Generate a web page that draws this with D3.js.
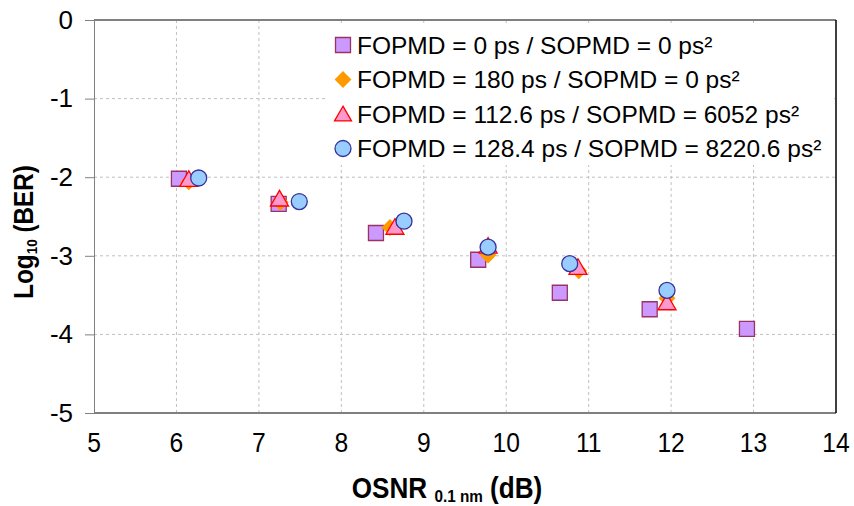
<!DOCTYPE html>
<html>
<head>
<meta charset="utf-8">
<script src="https://cdn.jsdelivr.net/npm/d3@7"></script>
<style>
  body { margin: 0; background: #fff; }
  text { font-family: "Liberation Sans", Arial, sans-serif; fill: #000; }
</style>
</head>
<body>
<script>
// data
var xTicks = [5, 6, 7, 8, 9, 10, 11, 12, 13, 14];
var yTicks = [0, -1, -2, -3, -4, -5];

var osnrSquare = [6.03, 7.24, 8.42, 9.66, 10.65, 11.74, 12.92];
var berSquare = [-2.02, -2.34, -2.71, -3.05, -3.47, -3.68, -3.93];

var osnrDiamond = [6.15, 7.26, 8.59, 9.78, 10.88, 11.95];
var berDiamond = [-2.06, -2.32, -2.64, -2.99, -3.19, -3.54];

var osnrTriangle = [6.15, 7.25, 8.65, 9.78, 10.87, 11.95];
var berTriangle = [-2.05, -2.30, -2.66, -2.90, -3.17, -3.62];

var osnrCircle = [6.27, 7.49, 8.76, 9.78, 10.77, 11.95];
var berCircle = [-2.01, -2.31, -2.56, -2.89, -3.10, -3.44];

var labels = [
  "FOPMD = 0 ps / SOPMD = 0 ps\u00b2",
  "FOPMD = 180 ps / SOPMD = 0 ps\u00b2",
  "FOPMD = 112.6 ps / SOPMD = 6052 ps\u00b2",
  "FOPMD = 128.4 ps / SOPMD = 8220.6 ps\u00b2"
];

var w = 854, h = 506;
var plotLeft = 94, plotTop = 20, plotRight = 836, plotBottom = 413;

var svg = d3.select("body").append("svg")
  .attr("width", w)
  .attr("height", h);

var x = d3.scaleLinear().domain([5, 14]).range([plotLeft, plotRight]);
var y = d3.scaleLinear().domain([-5, 0]).range([plotBottom, plotTop]);

// marker shapes
var shapes = {
  square: function (s) { return "M" + (-s) + "," + (-s) + "h" + 2 * s + "v" + 2 * s + "h" + (-2 * s) + "Z"; },
  diamond: function (s) { return "M0," + (-s) + "L" + s + ",0L0," + s + "L" + (-s) + ",0Z"; },
  triangle: function (s) { var hh = s * Math.sqrt(3); return "M0," + (-hh * 2 / 3) + "L" + s + "," + (hh / 3) + "L" + (-s) + "," + (hh / 3) + "Z"; },
  circle: function (s) { return d3.symbol(d3.symbolCircle, Math.PI * s * s)(); }
};

var series = [
  { xs: osnrSquare, ys: berSquare, shape: "square", size: 7.5, fill: "#cc99ff", stroke: "#993366" },
  { xs: osnrDiamond, ys: berDiamond, shape: "diamond", size: 7.5, fill: "#ff9900", stroke: "#ff9900" },
  { xs: osnrTriangle, ys: berTriangle, shape: "triangle", size: 9, fill: "#ff99cc", stroke: "#ff0000" },
  { xs: osnrCircle, ys: berCircle, shape: "circle", size: 8, fill: "#99ccff", stroke: "#333399" }
];

// grid
svg.append("g").selectAll("line")
  .data(xTicks.slice(1, -1))
  .enter().append("line")
  .attr("x1", d => x(d)).attr("x2", d => x(d))
  .attr("y1", plotTop).attr("y2", plotBottom)
  .attr("stroke", "#c0c0c0")
  .attr("stroke-dasharray", "3,3");

svg.append("g").selectAll("line")
  .data(yTicks.slice(1, -1))
  .enter().append("line")
  .attr("x1", plotLeft).attr("x2", plotRight)
  .attr("y1", d => y(d)).attr("y2", d => y(d))
  .attr("stroke", "#c0c0c0")
  .attr("stroke-dasharray", "3,3");

// frame
svg.append("line").attr("x1", plotLeft).attr("x2", plotRight).attr("y1", plotTop).attr("y2", plotTop)
  .attr("stroke", "#808080").attr("stroke-width", 2);
svg.append("line").attr("x1", plotLeft).attr("x2", plotRight).attr("y1", plotBottom).attr("y2", plotBottom)
  .attr("stroke", "#808080").attr("stroke-width", 2);
svg.append("line").attr("x1", plotRight).attr("x2", plotRight).attr("y1", plotTop).attr("y2", plotBottom)
  .attr("stroke", "#000").attr("stroke-width", 1.5);

// y axis
var yAxis = d3.axisLeft(y).tickValues(yTicks).tickSize(9).tickPadding(12)
  .tickFormat(d => String(d));
var yg = svg.append("g")
  .attr("transform", `translate(${plotLeft}, 0)`)
  .call(yAxis);
yg.select(".domain").attr("stroke", "#808080");
yg.selectAll(".tick line").attr("stroke", "#808080");
yg.selectAll(".tick text")
  .style("font-family", '"Liberation Sans", Arial, sans-serif')
  .style("font-size", "26px")
  .attr("fill", "#000");

// x tick labels
svg.append("g").selectAll("text")
  .data(xTicks)
  .enter().append("text")
  .attr("transform", d => `translate(${x(d)}, 452) scale(0.88, 1)`)
  .attr("text-anchor", "middle")
  .style("font-size", "28px")
  .text(d => d);

// legend
var lg = svg.append("g");
lg.append("rect")
  .attr("x", 326).attr("y", 26)
  .attr("width", 508).attr("height", 139)
  .attr("fill", "#fff");

var rows = lg.selectAll("g.item")
  .data(series)
  .enter().append("g")
  .attr("class", "item")
  .attr("transform", (d, i) => `translate(343, ${45 + i * 34.5})`);

rows.append("path")
  .attr("d", d => shapes[d.shape](d.shape === "triangle" ? 8.5 : d.size))
  .attr("transform", d => d.shape === "triangle" ? "translate(0,2)" : null)
  .attr("fill", d => d.fill)
  .attr("stroke", d => d.stroke)
  .attr("stroke-width", 1.3);

rows.append("text")
  .attr("x", 14)
  .attr("y", 8.5)
  .style("font-size", "24.5px")
  .text((d, i) => labels[i]);

// points
series.forEach(function (s) {
  svg.append("g").selectAll("path")
    .data(s.xs.map((v, i) => [v, s.ys[i]]))
    .enter().append("path")
    .attr("d", shapes[s.shape](s.size))
    .attr("transform", d => `translate(${x(d[0])}, ${y(d[1])})`)
    .attr("fill", s.fill)
    .attr("stroke", s.stroke)
    .attr("stroke-width", 1.3);
});

// axis titles
var yt = svg.append("text")
  .attr("transform", "translate(33, 232) rotate(-90) scale(0.9, 1)")
  .attr("text-anchor", "middle")
  .style("font-size", "27px")
  .style("font-weight", "bold");
yt.append("tspan").text("Log");
yt.append("tspan").style("font-size", "15px").attr("dy", 4).text("10");
yt.append("tspan").attr("dy", -4).text(" (BER)");

var xt = svg.append("text")
  .attr("transform", "translate(447, 498) scale(0.9, 1)")
  .attr("text-anchor", "middle")
  .style("font-size", "29px")
  .style("font-weight", "bold");
xt.append("tspan").text("OSNR ");
xt.append("tspan").style("font-size", "17px").attr("dy", 4).text("0.1 nm");
xt.append("tspan").attr("dy", -4).text(" (dB)");
</script>
</body>
</html>
